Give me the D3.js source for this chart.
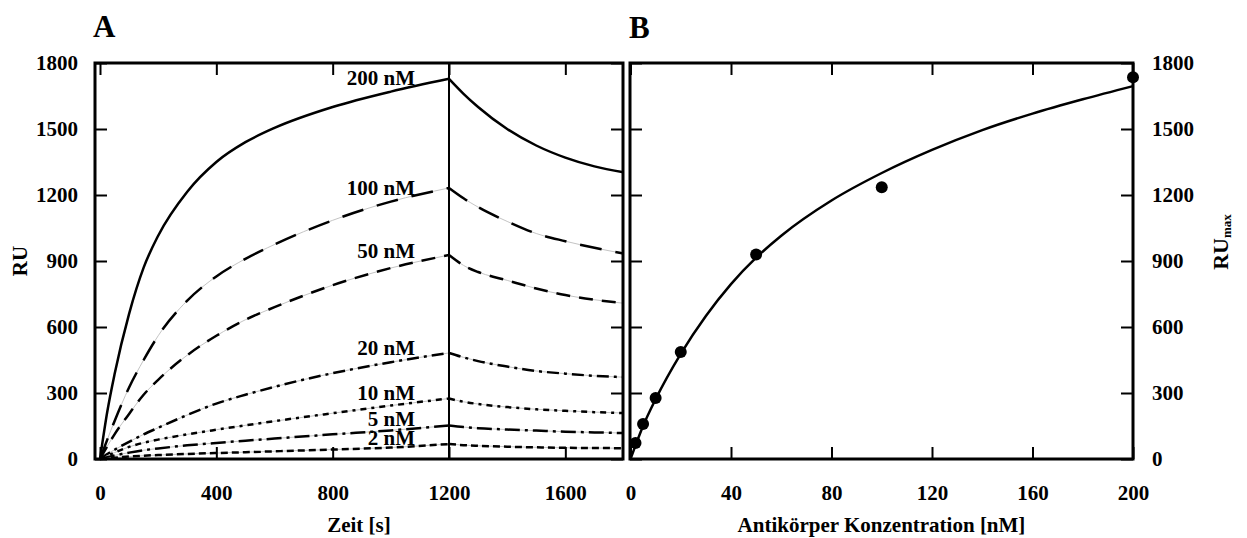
<!DOCTYPE html>
<html>
<head>
<meta charset="utf-8">
<script src="https://cdn.jsdelivr.net/npm/d3@7"></script>
<style>
  body { margin: 0; background: #fff; }
  text { font-family: "Liberation Serif", "Times New Roman", serif; font-weight: bold; fill: #000; }
</style>
</head>
<body>
<script>
// Panel A: sensorgram, time grid for association and dissociation phase
const assocTime = [0, 25, 50, 100, 150, 200, 300, 400, 500, 600, 800, 1000, 1200];
const dissocTime = [1200, 1250, 1300, 1400, 1500, 1600, 1700, 1800];

const concLabels = ["200 nM", "100 nM", "50 nM", "20 nM", "10 nM", "5 nM", "2 nM"];

const assoc200 = [0, 215, 385, 660, 870, 1015, 1215, 1350, 1440, 1505, 1600, 1670, 1728];
const assoc100 = [0, 88, 172, 325, 450, 560, 720, 830, 910, 975, 1085, 1170, 1232];
const assoc50 = [0, 58, 112, 205, 292, 360, 472, 560, 633, 690, 790, 868, 927];
const assoc20 = [0, 22, 42, 78, 112, 142, 200, 252, 292, 328, 390, 440, 482];
const assoc10 = [0, 15, 29, 55, 74, 88, 112, 133, 153, 172, 208, 243, 275];
const assoc5 = [0, 8, 16, 29, 40, 48, 62, 73, 83, 93, 112, 130, 152];
const assoc2 = [0, 3, 6, 11, 15, 18, 23, 27, 31, 35, 43, 52, 68];

const dissoc200 = [1728, 1660, 1600, 1500, 1425, 1370, 1330, 1303];
const dissoc100 = [1232, 1185, 1145, 1080, 1025, 990, 960, 934];
const dissoc50 = [927, 880, 850, 812, 775, 745, 724, 708];
const dissoc20 = [482, 462, 445, 420, 400, 388, 378, 372];
const dissoc10 = [275, 260, 250, 236, 226, 219, 213, 209];
const dissoc5 = [152, 145, 140, 134, 129, 124, 121, 118];
const dissoc2 = [68, 63, 60, 56, 53, 51, 50, 49];

// Panel B: RUmax vs antibody concentration
const concPoints = [2, 5, 10, 20, 50, 100, 200];
const ruMaxPoints = [73, 159, 277, 486, 930, 1235, 1735];
const fitConc = [0, 2, 5, 10, 20, 30, 40, 50, 60, 80, 100, 120, 140, 160, 180, 200];
const fitRU = [0, 62, 150, 272, 478, 650, 795, 915, 1015, 1175, 1300, 1405, 1495, 1570, 1635, 1695];

const ruTicks = [0, 300, 600, 900, 1200, 1500, 1800];
const timeTicks = [0, 400, 800, 1200, 1600];
const concTicks = [0, 40, 80, 120, 160, 200];

// line styles and label nudges (px) for the concentration curves
const dashes = [null, "22,14", "14,9", "12,5,3,5", "6,5,3,5", "15,5,3,5", "7,4"];
const labelDy = [6, 7, 3, 2, 1, 0, 1];

const svg = d3.select("body")
    .append("svg")
    .attr("width", 1247)
    .attr("height", 538);

const yTop = 63, yBottom = 459;
const y = d3.scaleLinear().domain([0, 1800]).range([yBottom, yTop]);
const xA = d3.scaleLinear().domain([0, 1800]).range([100, 623.5]);
const xB = d3.scaleLinear().domain([0, 200]).range([630.5, 1133]);

const fs = "21px";

// ---------- Panel A ----------
const gA = svg.append("g");

const assoc = [assoc200, assoc100, assoc50, assoc20, assoc10, assoc5, assoc2];
const dissoc = [dissoc200, dissoc100, dissoc50, dissoc20, dissoc10, dissoc5, dissoc2];

const lineA = d3.line()
    .x(d => xA(d[0]))
    .y(d => y(d[1]))
    .curve(d3.curveMonotoneX);

assoc.forEach((a, i) => {
    const segs = [
        assocTime.map((t, j) => [t, a[j]]),
        dissocTime.map((t, j) => [t, dissoc[i][j]])
    ];
    segs.forEach(seg => {
        if (dashes[i]) {
            gA.append("path")
                .attr("d", lineA(seg))
                .attr("fill", "none")
                .attr("stroke", "#c4c4c4")
                .attr("stroke-width", 1);
        }
        gA.append("path")
            .attr("d", lineA(seg))
            .attr("fill", "none")
            .attr("stroke", "#000")
            .attr("stroke-width", 2.5)
            .attr("stroke-dasharray", dashes[i]);
    });
    gA.append("text")
        .attr("x", xA(1200) - 34)
        .attr("y", y(a[a.length - 1]) + labelDy[i])
        .attr("text-anchor", "end")
        .style("font-size", fs)
        .text(concLabels[i]);
});

// injection end marker
gA.append("line")
    .attr("x1", xA(1200)).attr("x2", xA(1200))
    .attr("y1", yTop).attr("y2", yBottom)
    .attr("stroke", "#000")
    .attr("stroke-width", 2);

function styleAxis(g, showLabels) {
    g.select(".domain").remove();
    g.selectAll(".tick line").attr("stroke", "#000").attr("stroke-width", 2);
    g.selectAll(".tick text")
        .style("font-size", fs)
        .style("font-family", "'Liberation Serif', 'Times New Roman', serif")
        .style("font-weight", "bold")
        .attr("fill", "#000");
    if (!showLabels) g.selectAll(".tick text").remove();
}

gA.append("g")
    .attr("transform", `translate(0,${yBottom})`)
    .call(d3.axisBottom(xA).tickValues(timeTicks).tickSize(-12).tickPadding(26).tickFormat(d3.format("d")))
    .call(g => styleAxis(g, true));
gA.append("g")
    .attr("transform", `translate(0,${yTop})`)
    .call(d3.axisTop(xA).tickValues(timeTicks).tickSize(-12))
    .call(g => styleAxis(g, false));
gA.append("g")
    .attr("transform", "translate(95,0)")
    .call(d3.axisLeft(y).tickValues(ruTicks).tickSize(-12).tickPadding(17).tickFormat(d3.format("d")))
    .call(g => styleAxis(g, true));
gA.append("g")
    .attr("transform", "translate(623,0)")
    .call(d3.axisRight(y).tickValues(ruTicks).tickSize(-12))
    .call(g => styleAxis(g, false));

gA.append("rect")
    .attr("x", 95).attr("y", yTop)
    .attr("width", 623 - 95).attr("height", yBottom - yTop)
    .attr("fill", "none")
    .attr("stroke", "#000")
    .attr("stroke-width", 3);

gA.append("text")
    .attr("x", 93).attr("y", 37)
    .style("font-size", "31px")
    .text("A");

gA.append("text")
    .attr("x", (95 + 623) / 2).attr("y", 532)
    .attr("text-anchor", "middle")
    .style("font-size", fs)
    .text("Zeit [s]");

gA.append("text")
    .attr("transform", `translate(27,${(yTop + yBottom) / 2}) rotate(-90)`)
    .attr("text-anchor", "middle")
    .style("font-size", fs)
    .text("RU");

// ---------- Panel B ----------
const gB = svg.append("g");

const lineB = d3.line()
    .x(d => xB(d[0]))
    .y(d => y(d[1]))
    .curve(d3.curveMonotoneX);

gB.append("path")
    .attr("d", lineB(fitConc.map((c, j) => [c, fitRU[j]])))
    .attr("fill", "none")
    .attr("stroke", "#000")
    .attr("stroke-width", 2.5);

gB.selectAll("circle")
    .data(concPoints)
    .enter().append("circle")
    .attr("cx", d => xB(d))
    .attr("cy", (d, i) => y(ruMaxPoints[i]))
    .attr("r", 6)
    .attr("fill", "#000");

gB.append("g")
    .attr("transform", `translate(0,${yBottom})`)
    .call(d3.axisBottom(xB).tickValues(concTicks).tickSize(-12).tickPadding(26).tickFormat(d3.format("d")))
    .call(g => styleAxis(g, true));
gB.append("g")
    .attr("transform", `translate(0,${yTop})`)
    .call(d3.axisTop(xB).tickValues(concTicks).tickSize(-12))
    .call(g => styleAxis(g, false));
gB.append("g")
    .attr("transform", "translate(630,0)")
    .call(d3.axisLeft(y).tickValues(ruTicks).tickSize(-12))
    .call(g => styleAxis(g, false));
gB.append("g")
    .attr("transform", "translate(1133,0)")
    .call(d3.axisRight(y).tickValues(ruTicks).tickSize(-12).tickPadding(19).tickFormat(d3.format("d")))
    .call(g => styleAxis(g, true));

gB.append("rect")
    .attr("x", 630).attr("y", yTop)
    .attr("width", 1133 - 630).attr("height", yBottom - yTop)
    .attr("fill", "none")
    .attr("stroke", "#000")
    .attr("stroke-width", 3);

gB.append("text")
    .attr("x", 629).attr("y", 38)
    .style("font-size", "31px")
    .text("B");

gB.append("text")
    .attr("x", (630 + 1133) / 2).attr("y", 532)
    .attr("text-anchor", "middle")
    .style("font-size", fs)
    .text("Antikörper Konzentration [nM]");

const ruMax = gB.append("text")
    .attr("transform", `translate(1228,242) rotate(-90)`)
    .attr("text-anchor", "middle")
    .style("font-size", "22px");
ruMax.append("tspan").text("RU");
ruMax.append("tspan").attr("dy", 3).style("font-size", "13px").text("max");
</script>
</body>
</html>
